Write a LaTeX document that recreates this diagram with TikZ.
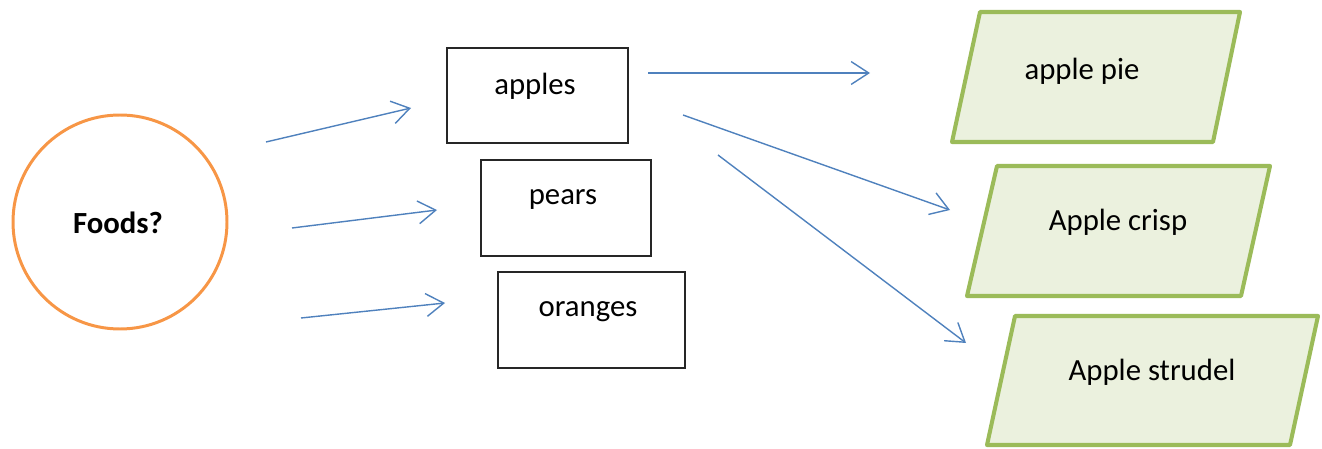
\documentclass[tikz,border=0pt]{standalone}
\usepackage{fontspec}
\setmainfont{Carlito}
\usetikzlibrary{arrows.meta}
\definecolor{arrowblue}{HTML}{4F81BD}
\definecolor{circorange}{HTML}{F79646}
\definecolor{paragreen}{HTML}{9BBB59}
\definecolor{parafill}{HTML}{EBF1DE}
\definecolor{boxgray}{HTML}{262626}
\tikzset{
  lbl/.style={inner sep=0pt, font=\fontsize{17.5}{21}\selectfont, text=black},
  boxshape/.style={draw=boxgray, line width=0.9pt, inner sep=0pt},
  parashape/.style={draw=paragreen, fill=parafill, line width=2.3pt, line join=round},
  conn/.style={draw=arrowblue, line width=0.8pt, -{Straight Barb[length=10pt,width=13pt,line width=0.8pt]}},
}
\begin{document}
\begin{tikzpicture}[x=0.02cm,y=-0.02cm]
\useasboundingbox (0,0) rectangle (1322,449);
% circle
\node[circle, draw=circorange, line width=1.7pt, minimum size=214*0.02cm, inner sep=0pt] (foods) at (120,222) {};
\node[lbl, font=\fontsize{17.5}{21}\selectfont\bfseries] (foodst) at (118,223) {Foods?};
% boxes
\node[boxshape, minimum width=181*0.02cm, minimum height=95*0.02cm] (apples) at (537.5,95.5) {};
\node[lbl] (applest) at (535,86) {apples};
\node[boxshape, minimum width=170*0.02cm, minimum height=96*0.02cm] (pears) at (566,208) {};
\node[lbl] (pearst) at (563,200) {pears};
\node[boxshape, minimum width=187*0.02cm, minimum height=96*0.02cm] (oranges) at (591.5,320) {};
\node[lbl] (orangest) at (588,312) {oranges};
% parallelograms
\draw[parashape] (980,12) -- (1240,12) -- (1213,142) -- (952,142) -- cycle;
\node[lbl] (pie) at (1082,71) {apple pie};
\draw[parashape] (997,166) -- (1270,166) -- (1241,296) -- (967,296) -- cycle;
\node[lbl] (crisp) at (1118,222) {Apple crisp};
\draw[parashape] (1015,316) -- (1318,316) -- (1290,445) -- (987,445) -- cycle;
\node[lbl] (strudel) at (1152,372) {Apple strudel};
% connector coordinates
\coordinate (a1s) at (266,142); \coordinate (a1e) at (411,108);
\coordinate (a2s) at (292,228); \coordinate (a2e) at (437,210);
\coordinate (a3s) at (301,318); \coordinate (a3e) at (445,303);
\coordinate (b1s) at (648,73);  \coordinate (b1e) at (870,73);
\coordinate (b2s) at (683,115); \coordinate (b2e) at (950,210);
\coordinate (b3s) at (718,155); \coordinate (b3e) at (966,343);
\draw[conn] (a1s) -- (a1e);
\draw[conn] (a2s) -- (a2e);
\draw[conn] (a3s) -- (a3e);
\draw[conn] (b1s) -- (b1e);
\draw[conn] (b2s) -- (b2e);
\draw[conn] (b3s) -- (b3e);
\end{tikzpicture}
\end{document}
